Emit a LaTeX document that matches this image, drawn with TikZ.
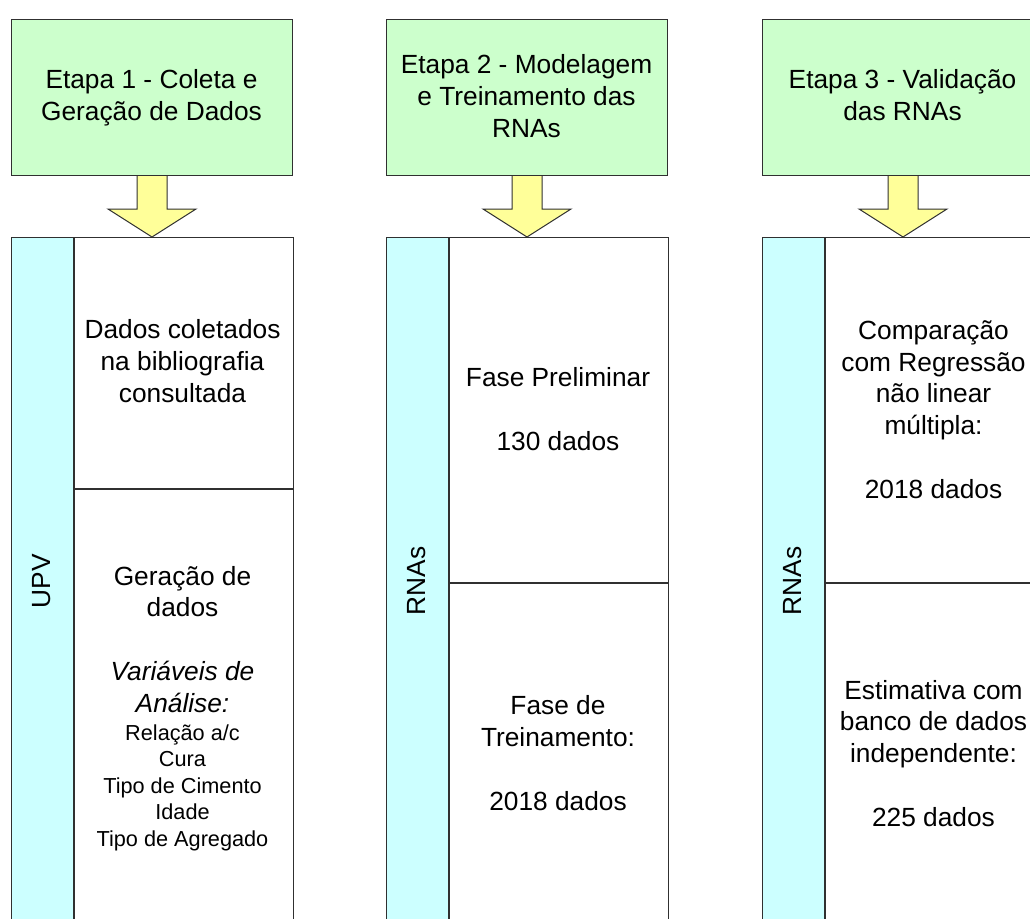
\documentclass[tikz,border=0pt]{standalone}
\usepackage{fontspec}
\setmainfont{Liberation Sans}
\usetikzlibrary{calc}
\definecolor{stagegreen}{HTML}{CCFFCC}
\definecolor{stripblue}{HTML}{CCFFFF}
\definecolor{arrowyellow}{HTML}{FFFF99}
\definecolor{edgegray}{HTML}{303030}
\tikzset{
  stagebox/.style={draw=edgegray, line width=1pt, fill=stagegreen, minimum width=281pt, minimum height=156pt, inner sep=0pt, anchor=north west},
  framebox/.style={draw=edgegray, line width=1pt, fill=white, minimum width=281pt, minimum height=690pt, inner sep=0pt, anchor=north west},
  stripbox/.style={draw=edgegray, line width=1pt, fill=stripblue, minimum width=62pt, minimum height=690pt, inner sep=0pt, anchor=north west},
  cellbox/.style={draw=edgegray, line width=1pt, fill=white, minimum width=219pt, inner sep=0pt, anchor=north west},
  bigtxt/.style={font=\fontsize{26.3}{31.7}\selectfont, align=center, anchor=base, inner sep=0pt},
  smalltxt/.style={font=\fontsize{21.7}{26.5}\selectfont, align=center, anchor=base, inner sep=0pt},
  striplabel/.style={font=\fontsize{26.3}{31.7}\selectfont, rotate=90, anchor=center, inner sep=0pt},
  flowarrow/.style={draw=edgegray, line width=1pt, fill=arrowyellow, line join=miter},
}
\begin{document}
\begin{tikzpicture}[x=1pt, y=-1pt]
\useasboundingbox (0,0) rectangle (1030,918);
\clip (0,0) rectangle (1030,918);

% ---------- Column 1 ----------
\node[stagebox] (s1) at (11,19) {};
\node[framebox] (f1) at (11,237) {};
\draw[flowarrow] ($(s1.south)+(-15,0)$) -- ($(f1.north)+(-15,-28)$) -- ($(f1.north)+(-44,-28)$) -- (f1.north)
  -- ($(f1.north)+(44,-28)$) -- ($(f1.north)+(15,-28)$) -- ($(s1.south)+(15,0)$);
\node[stagebox] at (11,19) {};
\node[bigtxt] (s1t) at (151.5,120) {Etapa 1 - Coleta e\\Geração de Dados};
\node[stripbox] (u1) at (f1.north west) {};
\node[striplabel] (u1t) at (42,581) {UPV};
\node[cellbox, minimum height=251pt] (c1a) at (u1.north east) {};
\node[cellbox, minimum height=439pt] (c1b) at (c1a.south west) {};
\node[bigtxt] (c1at) at (182.5,402) {Dados coletados\\na bibliografia\\consultada};
\node[bigtxt] (c1bt) at (182.5,712) {Geração de\\dados\\[31.7pt]{\itshape Variáveis de}\\{\itshape Análise:}};
\node[smalltxt] (c1bs) at (182.5,846) {Relação a/c\\Cura\\Tipo de Cimento\\Idade\\Tipo de Agregado};

% ---------- Column 2 ----------
\node[stagebox] (s2) at (386,19) {};
\node[framebox] (f2) at (386,237) {};
\draw[flowarrow] ($(s2.south)+(-15,0)$) -- ($(f2.north)+(-15,-28)$) -- ($(f2.north)+(-44,-28)$) -- (f2.north)
  -- ($(f2.north)+(44,-28)$) -- ($(f2.north)+(15,-28)$) -- ($(s2.south)+(15,0)$);
\node[stagebox] at (386,19) {};
\node[bigtxt] (s2t) at (526.5,137) {Etapa 2 - Modelagem\\e Treinamento das\\RNAs};
\node[stripbox] (u2) at (f2.north west) {};
\node[striplabel] (u2t) at (417,581) {RNAs};
\node[cellbox, minimum height=345pt] (c2a) at (u2.north east) {};
\node[cellbox, minimum height=345pt] (c2b) at (c2a.south west) {};
\node[bigtxt] (c2at) at (558,450) {Fase Preliminar\\[31.7pt]130 dados};
\node[bigtxt] (c2bt) at (558,810) {Fase de\\Treinamento:\\[31.7pt]2018 dados};

% ---------- Column 3 ----------
\node[stagebox] (s3) at (762,19) {};
\node[framebox] (f3) at (762,237) {};
\draw[flowarrow] ($(s3.south)+(-15,0)$) -- ($(f3.north)+(-15,-28)$) -- ($(f3.north)+(-44,-28)$) -- (f3.north)
  -- ($(f3.north)+(44,-28)$) -- ($(f3.north)+(15,-28)$) -- ($(s3.south)+(15,0)$);
\node[stagebox] at (762,19) {};
\node[bigtxt] (s3t) at (902.5,120) {Etapa 3 - Validação\\das RNAs};
\node[stripbox] (u3) at (f3.north west) {};
\node[striplabel] (u3t) at (793,581) {RNAs};
\node[cellbox, minimum height=345pt] (c3a) at (u3.north east) {};
\node[cellbox, minimum height=345pt] (c3b) at (c3a.south west) {};
\node[bigtxt] (c3at) at (933.5,498) {Comparação\\com Regressão\\não linear\\múltipla:\\[31.7pt]2018 dados};
\node[bigtxt] (c3bt) at (933.5,826) {Estimativa com\\banco de dados\\independente:\\[31.7pt]225 dados};
\end{tikzpicture}
\end{document}
